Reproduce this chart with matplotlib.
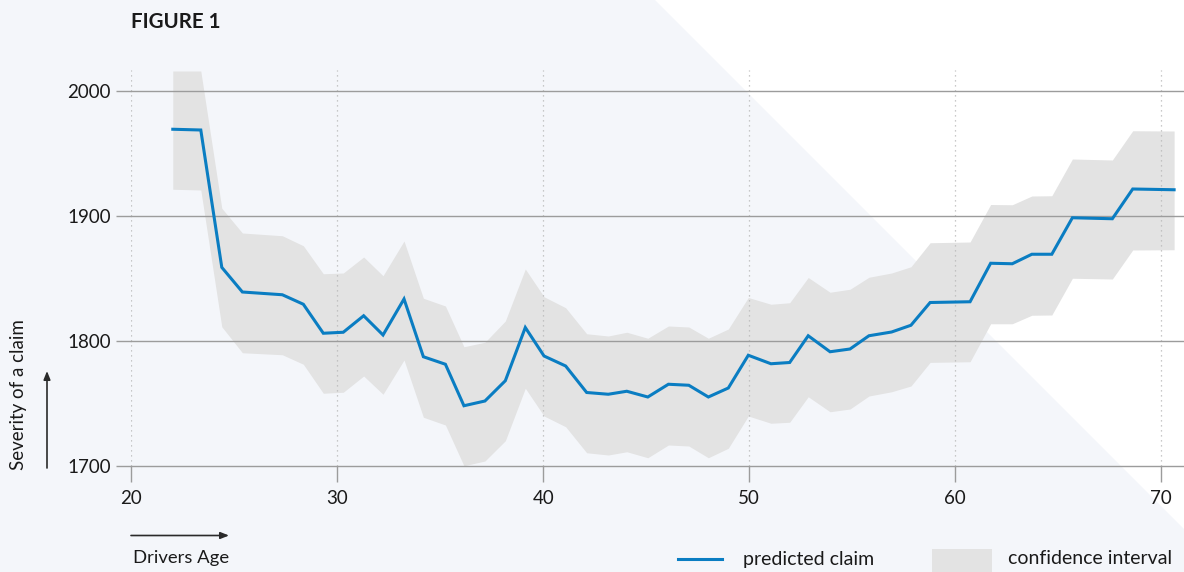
import matplotlib.pyplot as plt
from matplotlib.patches import Polygon, Rectangle
from matplotlib.lines import Line2D

# model output per driver age
age = [22.01, 23.37, 24.39, 25.39, 27.33, 28.35, 29.32, 30.29, 31.28, 32.22,
       33.24, 34.18, 35.25, 36.15, 37.17, 38.16, 39.13, 40.04, 41.09, 42.11,
       43.16, 44.06, 45.08, 46.08, 47.07, 48.02, 48.99, 49.96, 51.06, 51.97,
       52.87, 53.93, 54.90, 55.82, 56.92, 57.86, 58.79, 60.73, 61.73, 62.78,
       63.73, 64.70, 65.70, 67.64, 68.63, 70.64]
predicted = [1969.4, 1968.8, 1858.9, 1839.2, 1837.0, 1829.4, 1806.2, 1807.0, 1820.2, 1804.8,
             1833.6, 1787.4, 1781.4, 1748.2, 1752.0, 1768.2, 1810.8, 1788.0, 1780.0, 1758.8,
             1757.4, 1759.8, 1755.2, 1765.4, 1764.6, 1755.2, 1762.4, 1788.6, 1781.8, 1782.8,
             1804.2, 1791.4, 1793.6, 1804.2, 1807.2, 1812.6, 1830.8, 1831.4, 1862.2, 1861.8,
             1869.4, 1869.4, 1898.6, 1897.8, 1921.6, 1921.0]
ci_upper = [2016.0, 2016.0, 1906.2, 1886.4, 1884.2, 1876.2, 1853.8, 1854.4, 1867.2, 1852.2,
            1880.0, 1834.2, 1828.0, 1795.4, 1799.0, 1816.0, 1857.6, 1835.4, 1826.6, 1805.8,
            1804.0, 1807.0, 1802.2, 1812.0, 1811.2, 1802.2, 1809.6, 1834.8, 1829.4, 1830.6,
            1850.8, 1839.0, 1841.4, 1851.0, 1854.4, 1859.4, 1878.6, 1879.2, 1909.2, 1909.0,
            1916.0, 1916.2, 1945.6, 1944.8, 1968.2, 1968.0]
ci_lower = [1921.4, 1920.8, 1811.4, 1790.6, 1789.0, 1781.4, 1758.2, 1759.0, 1772.0, 1757.4,
            1784.8, 1739.0, 1732.8, 1700.2, 1704.0, 1720.2, 1762.2, 1740.0, 1731.4, 1710.6,
            1708.8, 1711.4, 1706.6, 1716.8, 1716.0, 1706.6, 1714.2, 1740.0, 1734.2, 1735.0,
            1755.4, 1743.4, 1745.6, 1756.0, 1759.4, 1764.0, 1782.9, 1783.4, 1813.8, 1813.8,
            1820.6, 1820.8, 1850.2, 1849.6, 1872.8, 1873.0]

x_ticks = [20, 30, 40, 50, 60, 70]
y_ticks = [1700, 1800, 1900, 2000]

BLUE = '#0a7dc2'
BAND = '#e3e3e3'
GRID = '#9c9c9c'
BG = '#f4f6fa'
INK = '#1a1a1a'

plt.rcParams['font.family'] = ['Lato', 'DejaVu Sans']

W, H = 1184, 572
fig = plt.figure(figsize=(W / 100, H / 100), dpi=100)
fig.patch.set_facecolor('white')


def fx(px):
    return px / W


def fy(py):
    return 1 - py / H


# light background with a white wedge in the top right corner
bg = Polygon([(fx(0), fy(0)), (fx(655), fy(0)), (fx(1184), fy(529)),
              (fx(1184), fy(572)), (fx(0), fy(572))],
             closed=True, transform=fig.transFigure, facecolor=BG,
             edgecolor='none', zorder=-10)
fig.patches.append(bg)

ax = fig.add_axes([fx(131.4), fy(466), fx(1184) - fx(131.4), fy(70) - fy(466)])
ax.set_facecolor('none')
ax.set_zorder(1)

ax.fill_between(age, ci_lower, ci_upper, color=BAND, linewidth=0)
ax.plot(age, predicted, color=BLUE, lw=2.2, solid_joinstyle='miter')

ax.set_xlim(20, 71.12)
ax.set_ylim(1700, 2016.8)
ax.set_xticks(x_ticks)
ax.set_yticks(y_ticks)

for s in ax.spines.values():
    s.set_visible(False)

ax.grid(axis='y', color=GRID, lw=1.0)
ax.grid(axis='x', color='#b8b8b8', lw=0.9, linestyle=(0, (1, 3)))
# keep the bottom gridline (1700) from being cut in half at the axes edge
for gl in ax.get_ygridlines():
    gl.set_clip_on(False)
ax.tick_params(axis='y', length=11, width=1, color=GRID, pad=4,
               labelsize=13.5, labelcolor=INK)
ax.tick_params(axis='x', length=11.5, width=1, color=GRID, pad=6,
               labelsize=13.5, labelcolor=INK)

fig.text(fx(131), fy(22), 'FIGURE 1', fontsize=14.8, fontweight='bold',
         color=INK, ha='left', va='center')

# axis titles with direction arrows
fig.text(fx(19), fy(470), 'Severity of a claim', rotation=90, fontsize=13.5,
         color=INK, ha='center', va='bottom')
fig.text(fx(133), fy(558), 'Drivers Age', fontsize=13.3, color=INK,
         ha='left', va='center')
arrow = dict(arrowstyle='-|>,head_length=0.5,head_width=0.2', color='#2a2a2a',
             lw=1.2, shrinkA=0, shrinkB=0)
ax.annotate('', xy=(fx(47), fy(371)), xytext=(fx(47), fy(468)),
            xycoords='figure fraction', textcoords='figure fraction',
            arrowprops=arrow, annotation_clip=False)
ax.annotate('', xy=(fx(229), fy(535.5)), xytext=(fx(131), fy(535.5)),
            xycoords='figure fraction', textcoords='figure fraction',
            arrowprops=arrow, annotation_clip=False)

# legend
fig.lines.append(Line2D([fx(678), fx(722)], [fy(559), fy(559)],
                        transform=fig.transFigure, color=BLUE, lw=2.2))
fig.text(fx(743), fy(559), 'predicted claim', fontsize=14, color=INK,
         ha='left', va='center')
fig.patches.append(Rectangle((fx(932), fy(572)), fx(992) - fx(932),
                             fy(549) - fy(572), transform=fig.transFigure,
                             facecolor=BAND, edgecolor='none'))
fig.text(fx(1008), fy(559), 'confidence interval', fontsize=14, color=INK,
         ha='left', va='center')

plt.savefig('out.png', dpi=100)
plt.close()
